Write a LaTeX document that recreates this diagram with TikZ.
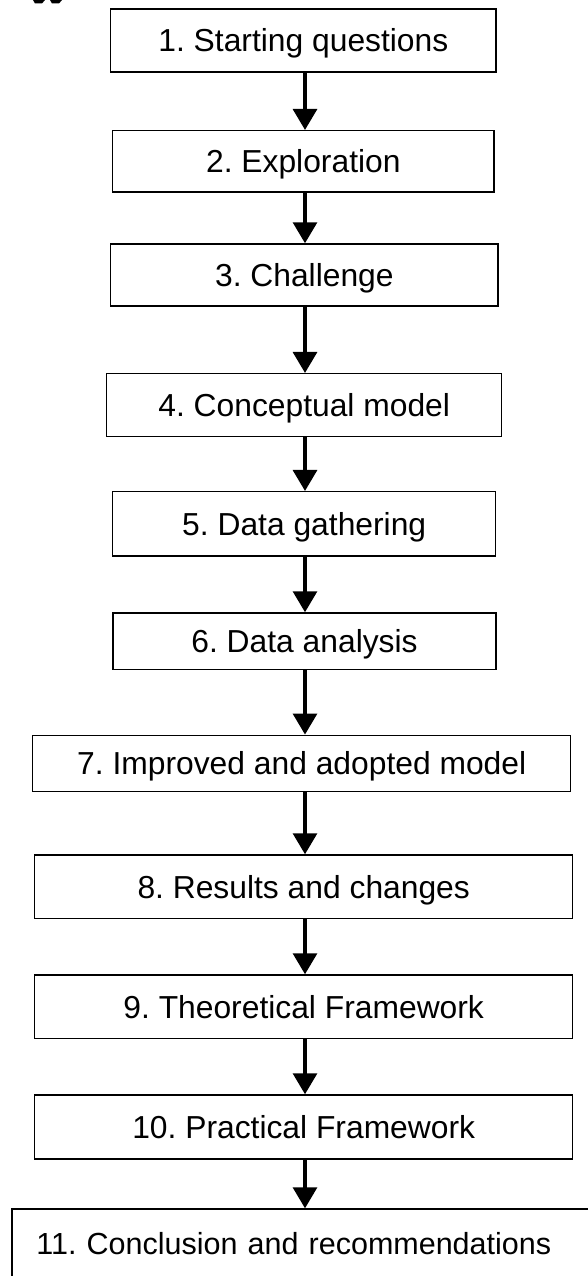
\documentclass[tikz,border=0pt]{standalone}
\usepackage{fontspec}
\setmainfont{Liberation Sans}
\usetikzlibrary{arrows.meta,calc}
\frenchspacing
\begin{document}
\begin{tikzpicture}[x=1pt,y=-1pt,
  stage/.style={draw=black,line width=1.5pt,inner sep=0pt,
    font=\fontsize{31.8}{36}\selectfont,text height=22.7pt,text depth=0pt},
  flow/.style={line width=3.2pt,-{Triangle[width=24pt,length=21pt]}}]
\clip (0,0) rectangle (588,1276);
\fill[white] (0,0) rectangle (588,1276);
% cut-off heading fragments at the top edge
\fill[black] (33,0) -- (45,0) -- (42,3.5) -- (35,3.5) -- cycle;
\fill[black] (50,0) -- (62,0) -- (59,3.5) -- (52,3.5) -- cycle;
% shaft position of the connectors
\coordinate (ax) at (305,0);
% process stages
\node[stage,minimum width=385.3pt,minimum height=63pt]   (b1)  at (303.35,40.5)   {1. Starting questions};
\node[stage,minimum width=381.3pt,minimum height=61.3pt] (b2)  at (303.35,161.35) {2. Exploration};
\node[stage,minimum width=387.3pt,minimum height=62pt]   (b3)  at (304.35,275)    {3. Challenge};
\node[stage,minimum width=395pt,minimum height=63pt]     (b4)  at (304.2,405.2)   {4. Conceptual model};
\node[stage,minimum width=383pt,minimum height=64.3pt]   (b5)  at (304.2,523.85)  {5. Data gathering};
\node[stage,minimum width=383pt,minimum height=56.3pt]   (b6)  at (304.5,641.15)  {6. Data analysis};
\node[stage,minimum width=538pt,minimum height=56.4pt]   (b7)  at (301.7,763.5)   {7. Improved and adopted model};
\node[stage,minimum width=538pt,minimum height=63.3pt]   (b8)  at (303.7,886.65)  {8. Results and changes};
\node[stage,minimum width=538pt,minimum height=63.7pt]   (b9)  at (303.7,1006.85) {9. Theoretical Framework};
\node[stage,minimum width=538pt,minimum height=64pt]     (b10) at (303.7,1127)    {10. Practical Framework};
\node[stage,font=\fontsize{30.5}{36}\selectfont,text height=21.8pt,
      anchor=north west,inner xsep=24.6pt,text width=595pt,align=left,minimum height=70pt]
  (b11) at (11,1208.3) {11. Conclusion and recommendations};
% connectors
\foreach \a/\b in {b1/b2,b2/b3,b3/b4,b4/b5,b5/b6,b6/b7,b7/b8,b8/b9,b9/b10,b10/b11}
  \draw[flow] (\a.south -| ax) -- (\b.north -| ax);
\end{tikzpicture}
\end{document}
